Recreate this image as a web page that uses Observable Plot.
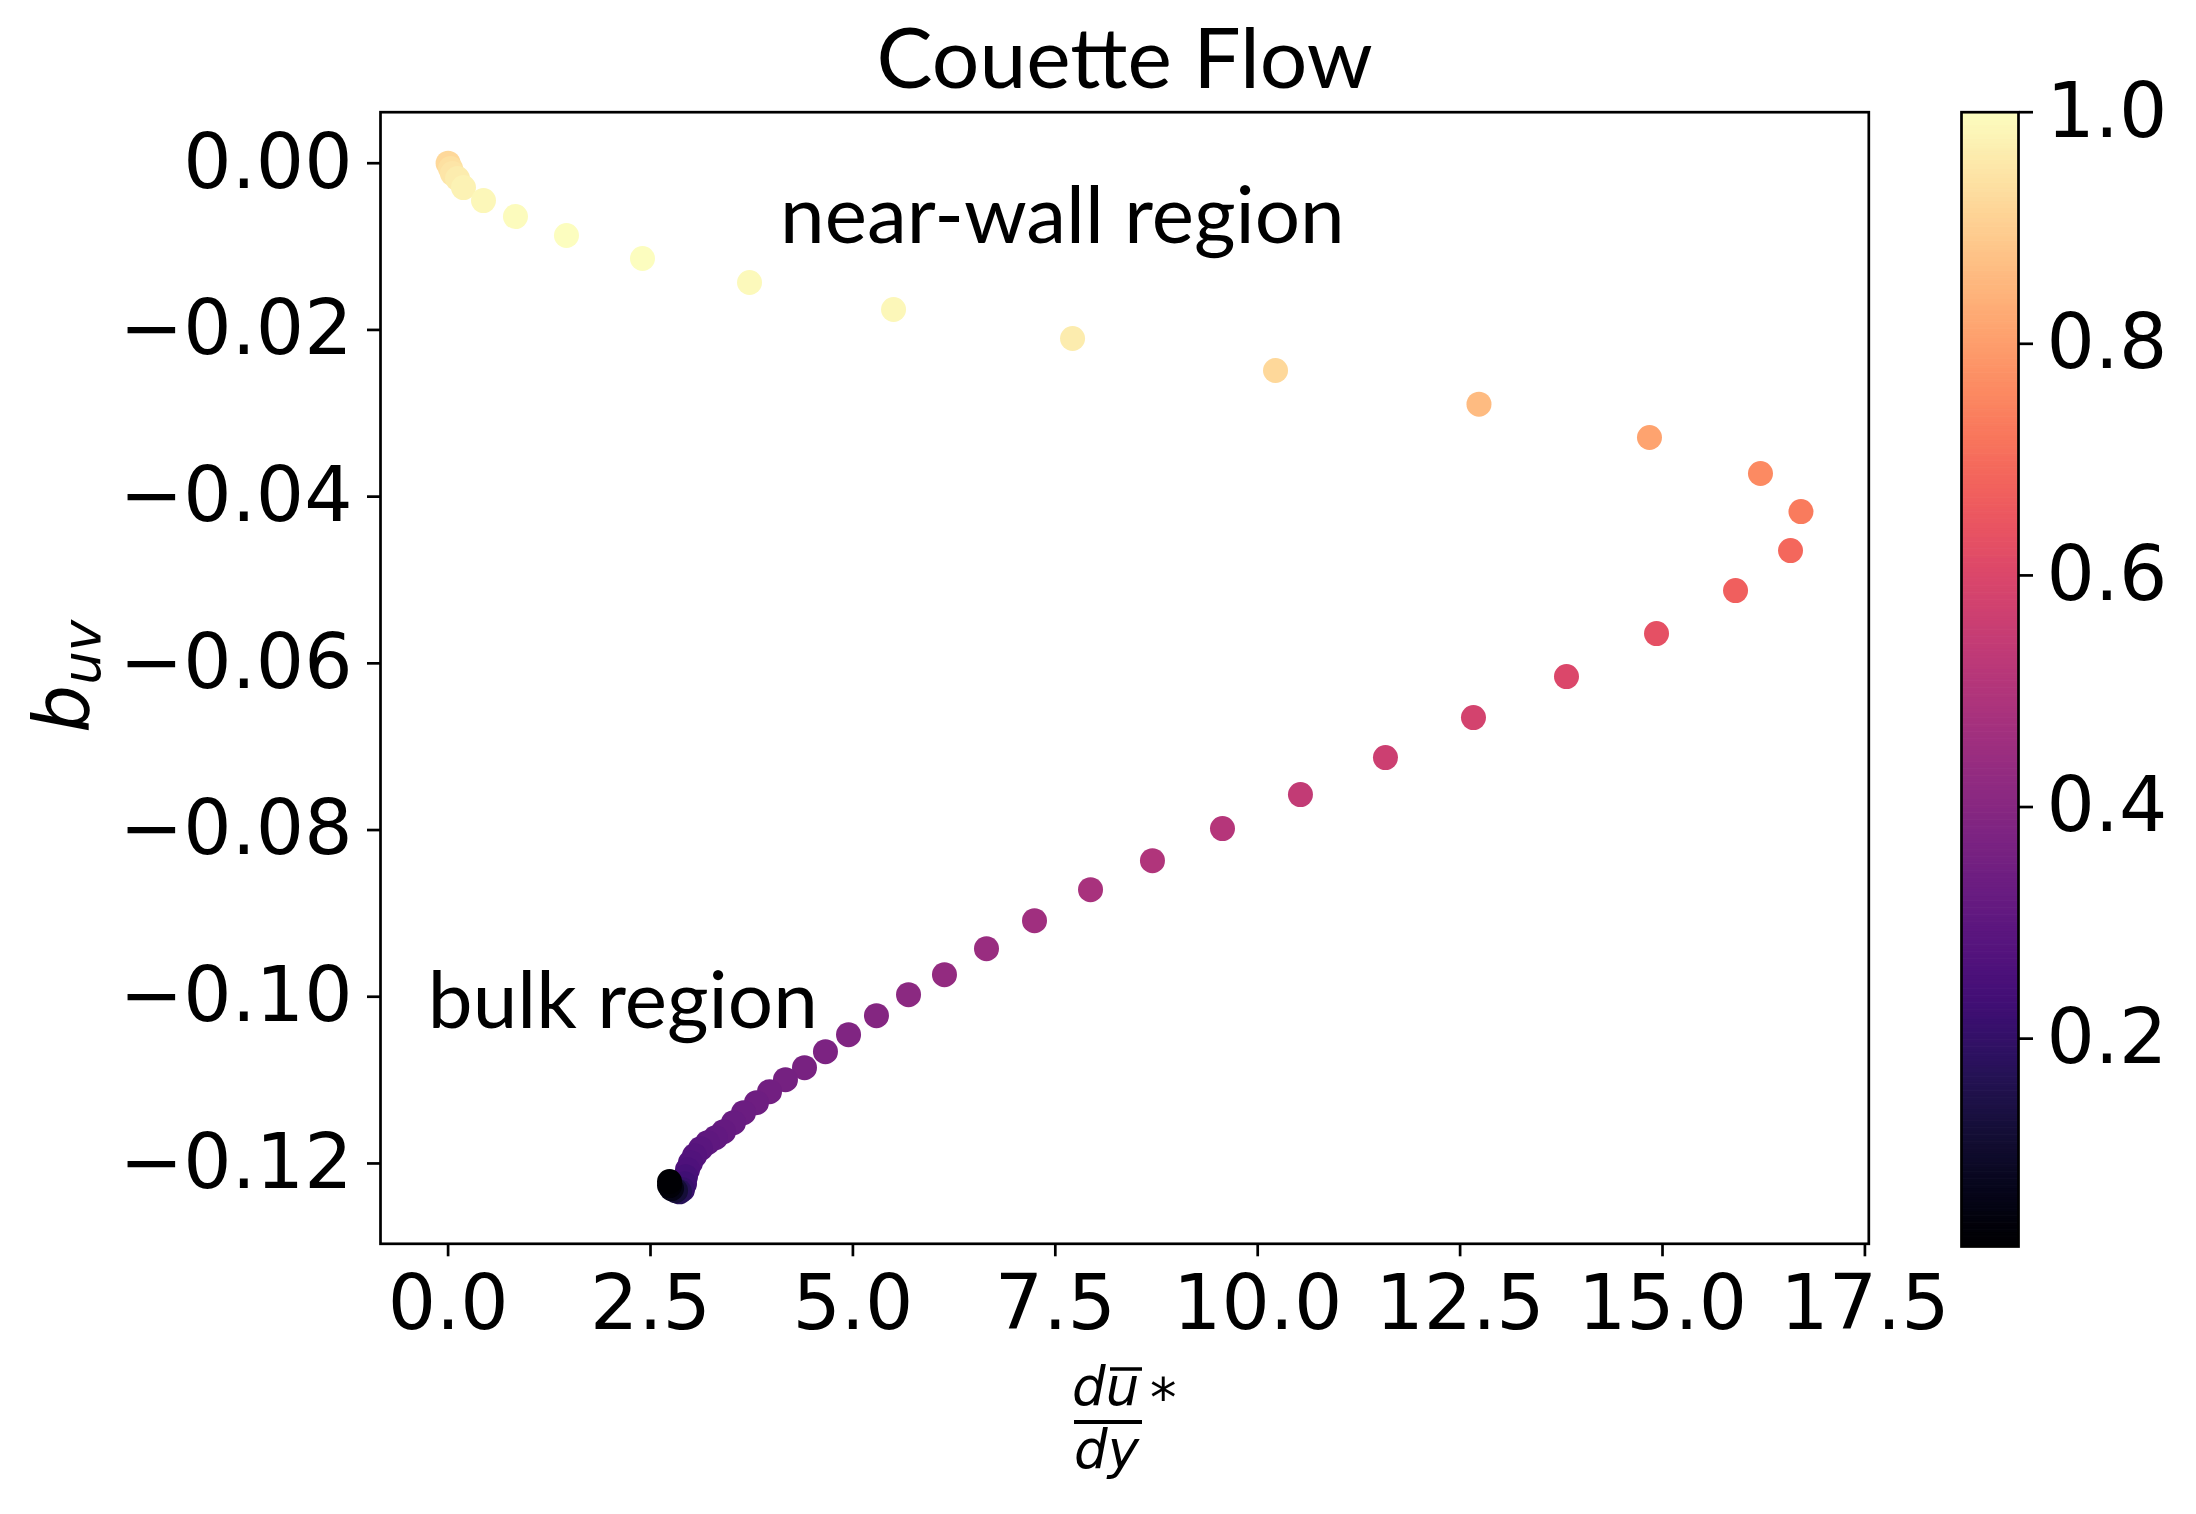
<!DOCTYPE html>
<html><head><meta charset="utf-8">
<script src="https://cdn.jsdelivr.net/npm/d3@7"></script>
<script src="https://cdn.jsdelivr.net/npm/@observablehq/plot@0.6"></script>
<style>
body{margin:0;background:#fff}
#wrap{position:relative;width:2196px;height:1514px;background:#fff}
#wrap svg{overflow:visible;position:absolute;top:0}
</style>
</head><body><div id="wrap"></div>
<script>
// du/dy* values
const xs = [0.000,0.030,0.054,0.116,0.190,0.437,0.832,1.462,2.401,3.723,5.502,7.713,10.220,12.733,14.839,16.210,16.710,16.581,15.902,14.926,13.814,12.665,11.578,10.528,9.565,8.700,7.935,7.243,6.650,6.131,5.687,5.291,4.946,4.661,4.402,4.167,3.970,3.809,3.649,3.525,3.402,3.303,3.204,3.118,3.044,2.994,2.957,2.932,2.920,2.895,2.858,2.809,2.760,2.735,2.735];
// b_uv values
const ys = [0.0000,-0.00064,-0.00124,-0.00184,-0.00292,-0.00448,-0.00640,-0.00867,-0.01143,-0.01431,-0.01755,-0.02103,-0.02487,-0.02891,-0.03291,-0.03723,-0.04179,-0.04647,-0.05127,-0.05643,-0.06159,-0.06651,-0.07131,-0.07575,-0.07983,-0.08367,-0.08715,-0.09087,-0.09423,-0.09735,-0.09975,-0.10227,-0.10455,-0.10659,-0.10851,-0.10995,-0.11139,-0.11271,-0.11391,-0.11511,-0.11619,-0.11691,-0.11751,-0.11823,-0.11907,-0.11991,-0.12075,-0.12159,-0.12243,-0.12315,-0.12340,-0.12327,-0.12301,-0.12265,-0.12217];
// colour values
const cs = [0.92,0.935,0.95,0.965,0.975,0.985,0.995,1.0,0.998,0.99,0.985,0.965,0.92,0.86,0.81,0.76,0.73,0.69,0.67,0.63,0.60,0.58,0.56,0.54,0.51,0.495,0.477,0.458,0.442,0.428,0.41,0.393,0.383,0.375,0.363,0.355,0.348,0.34,0.333,0.326,0.318,0.31,0.30,0.29,0.28,0.27,0.26,0.245,0.23,0.21,0.17,0.12,0.06,0.035,0.0205];

const xTicks = [0, 2.5, 5, 7.5, 10, 12.5, 15, 17.5];
const yTicks = [0, -0.02, -0.04, -0.06, -0.08, -0.10, -0.12];
const cTicks = [0.2, 0.4, 0.6, 0.8, 1.0];
const annotTexts = ["near-wall region", "bulk region"];
const annotX = [4.1, -0.25];
const annotY = [-0.0096, -0.1038];
const titleText = "Couette Flow";

const points = xs.map((x, i) => ({x, y: ys[i], c: cs[i]}));
const annots = annotTexts.map((t, i) => ({t, x: annotX[i], y: annotY[i]}));
const cMin = d3.min(cs), cMax = d3.max(cs);

const main = Plot.plot({
  width: 1900, height: 1514,
  marginLeft: 380, marginRight: 31.7, marginTop: 111.7, marginBottom: 270.7,
  style: {fontFamily: "DejaVu Sans", color: "black", background: "white"},
  x: {domain: [-0.835, 17.548]},
  y: {domain: [-0.12964, 0.00612]},
  color: {type: "linear", scheme: "magma", domain: [cMin, cMax]},
  marks: [
    Plot.dot(points, {x: "x", y: "y", fill: "c", r: 12.5}),
    Plot.axisX({ticks: xTicks, tickFormat: d3.format(".1f"), tickSize: 13, tickPadding: 18, fontSize: 76, strokeWidth: 2.7, label: null}),
    Plot.axisY({ticks: yTicks, tickFormat: d3.format(".2f"), tickSize: 13, tickPadding: 15, fontSize: 76, strokeWidth: 2.7, label: null}),
    Plot.frame({stroke: "black", strokeWidth: 2.7}),
    Plot.text([titleText], {frameAnchor: "top", lineAnchor: "bottom", dy: -24.7, fontSize: 84, fontFamily: "Lato"}),
    Plot.text(annots, {x: "x", y: "y", text: "t", textAnchor: "start", lineAnchor: "bottom", fontSize: 80, fontFamily: "Lato"})
  ]
});

// axis labels (math-style text)
const svg = d3.select(main);
const xl = svg.append("g").attr("font-family", "DejaVu Sans").attr("font-size", 53).attr("fill", "black").attr("text-anchor", "start");
xl.append("text").attr("x", 1072).attr("y", 1405).attr("font-style", "italic").text("du");
xl.append("line").attr("x1", 1110).attr("x2", 1142).attr("y1", 1369).attr("y2", 1369).attr("stroke", "black").attr("stroke-width", 3.5);
xl.append("line").attr("x1", 1074).attr("x2", 1142).attr("y1", 1422).attr("y2", 1422).attr("stroke", "black").attr("stroke-width", 4);
xl.append("text").attr("x", 1074).attr("y", 1468).attr("font-style", "italic").text("dy");
xl.append("text").attr("x", 1150).attr("y", 1416).text("*");

const yl = svg.append("text").attr("transform", "translate(88,733) rotate(-90)").attr("text-anchor", "start")
  .attr("font-family", "DejaVu Sans").attr("font-style", "italic").attr("font-size", 76).attr("fill", "black");
yl.append("tspan").text("b");
yl.append("tspan").attr("font-size", 53).attr("dy", 12).text("uv");

const steps = d3.range(cMin, cMax, 0.002);
const cbar = Plot.plot({
  width: 296, height: 1514,
  marginLeft: 61, marginRight: 178, marginTop: 111.7, marginBottom: 268,
  style: {fontFamily: "DejaVu Sans", color: "black", background: "none"},
  y: {domain: [cMin, cMax]},
  color: {type: "linear", scheme: "magma", domain: [cMin, cMax]},
  marks: [
    Plot.rect(steps, {y1: d => d, y2: d => Math.min(d + 0.0026, cMax), fill: d => d + 0.001}),
    Plot.axisY({anchor: "right", ticks: cTicks, tickFormat: d3.format(".1f"), tickSize: 14, tickPadding: 14, fontSize: 76, strokeWidth: 2.7, label: null}),
    Plot.frame({stroke: "black", strokeWidth: 2.7})
  ]
});
cbar.style.left = "1900px";
main.style.left = "0px";

document.getElementById("wrap").append(main, cbar);
</script>
</body></html>
